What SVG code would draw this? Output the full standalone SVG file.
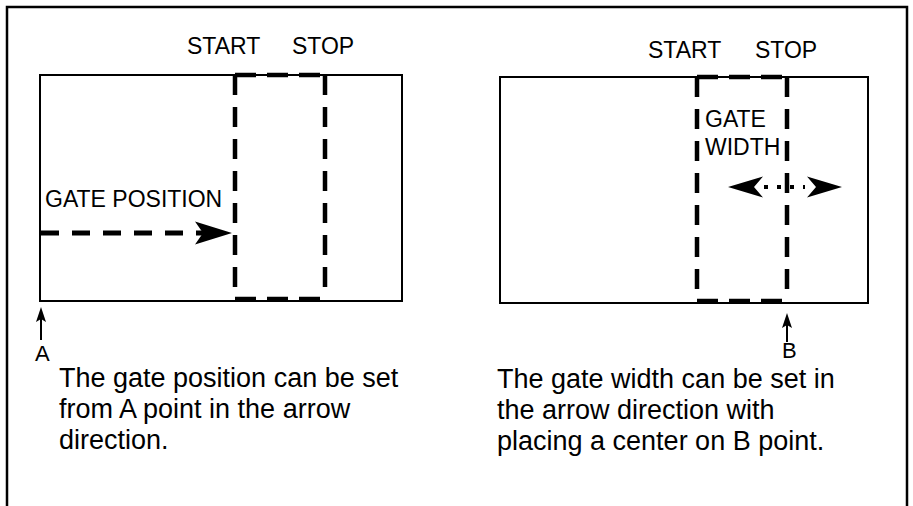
<svg xmlns="http://www.w3.org/2000/svg" width="913" height="506" viewBox="0 0 913 506">
<style>
  text { font-family: "Liberation Sans", Arial, sans-serif; fill: #000; }
  .lbl { font-size: 23px; }
  .pt { font-size: 22px; }
  .body { font-size: 27px; }
  .frame { fill: none; stroke: #000; stroke-width: 2.5; }
  .box { fill: none; stroke: #000; stroke-width: 2; }
  .gate { fill: none; stroke: #000; stroke-width: 4.5; stroke-dasharray: 21 11; }
  .gatev { fill: none; stroke: #000; stroke-width: 4.5; stroke-dasharray: 20 12; }
  .dash { fill: none; stroke: #000; stroke-width: 5; stroke-dasharray: 18 13; }
  .dots { fill: none; stroke: #000; stroke-width: 4; stroke-dasharray: 4 9; }
  .thin { fill: none; stroke: #000; stroke-width: 2; }
  .head { fill: #000; stroke: none; }
</style>
<defs>
  <path id="bigHead" d="M0,0 L-37,-11.5 L-29,0 L-37,11.5 Z"/>
  <path id="midHead" d="M0,0 L-35,-10.5 L-26,0 L-35,10.5 Z"/>
  <path id="smallHead" d="M0,0 L-5,15 L0,12 L5,15 Z"/>
</defs>
<rect width="913" height="506" fill="#fff"/>
<g id="frame">
  <path class="frame" d="M7,506 V7 H907 V506"/>
</g>

<g id="left-figure">
  <rect class="box" x="40" y="75" width="362" height="226"/>
  <g id="left-gate">
    <path class="gate" d="M235,75 H325"/>
    <path class="gate" d="M235,299 H325"/>
    <path class="gatev" d="M235,75 V299"/>
    <path class="gatev" d="M325,75 V299"/>
  </g>
  <text class="lbl" x="187" y="54">START</text>
  <text class="lbl" x="292" y="54">STOP</text>
  <text class="lbl" x="45" y="207">GATE POSITION</text>
</g>

<g id="right-figure">
  <rect class="box" x="500" y="77" width="368" height="226"/>
  <g id="right-gate">
    <path class="gate" d="M697,77 H787"/>
    <path class="gate" d="M697,301 H787"/>
    <path class="gatev" d="M697,77 V301"/>
    <path class="gatev" d="M787,77 V301"/>
  </g>
  <text class="lbl" x="648" y="58">START</text>
  <text class="lbl" x="755" y="58">STOP</text>
  <text class="lbl" x="705" y="127">GATE</text>
  <text class="lbl" x="705" y="155">WIDTH</text>
</g>

<g id="connectors">
  <g id="gate-position-arrow">
    <path class="dash" d="M41,233 H205"/>
    <use href="#bigHead" class="head" transform="translate(232,233)"/>
  </g>
  <g id="gate-width-arrow">
    <path class="dots" d="M764,187 H805"/>
    <use href="#midHead" class="head" transform="translate(728,187) rotate(180)"/>
    <use href="#midHead" class="head" transform="translate(842,187)"/>
  </g>
  <g id="a-arrow">
    <path class="thin" d="M41,318 V340"/>
    <use href="#smallHead" class="head" transform="translate(41,307)"/>
  </g>
  <g id="b-arrow">
    <path class="thin" d="M787,324 V342"/>
    <use href="#smallHead" class="head" transform="translate(787,313)"/>
  </g>
</g>

<g id="point-labels">
  <text class="pt" x="35" y="361">A</text>
  <text class="pt" x="782" y="358">B</text>
</g>

<g id="captions">
  <text class="body" x="59" y="387">The gate position can be set</text>
  <text class="body" x="59" y="418">from A point in the arrow</text>
  <text class="body" x="59" y="449">direction.</text>
  <text class="body" x="497" y="388">The gate width can be set in</text>
  <text class="body" x="497" y="419">the arrow direction with</text>
  <text class="body" x="497" y="450">placing a center on B point.</text>
</g>
</svg>
